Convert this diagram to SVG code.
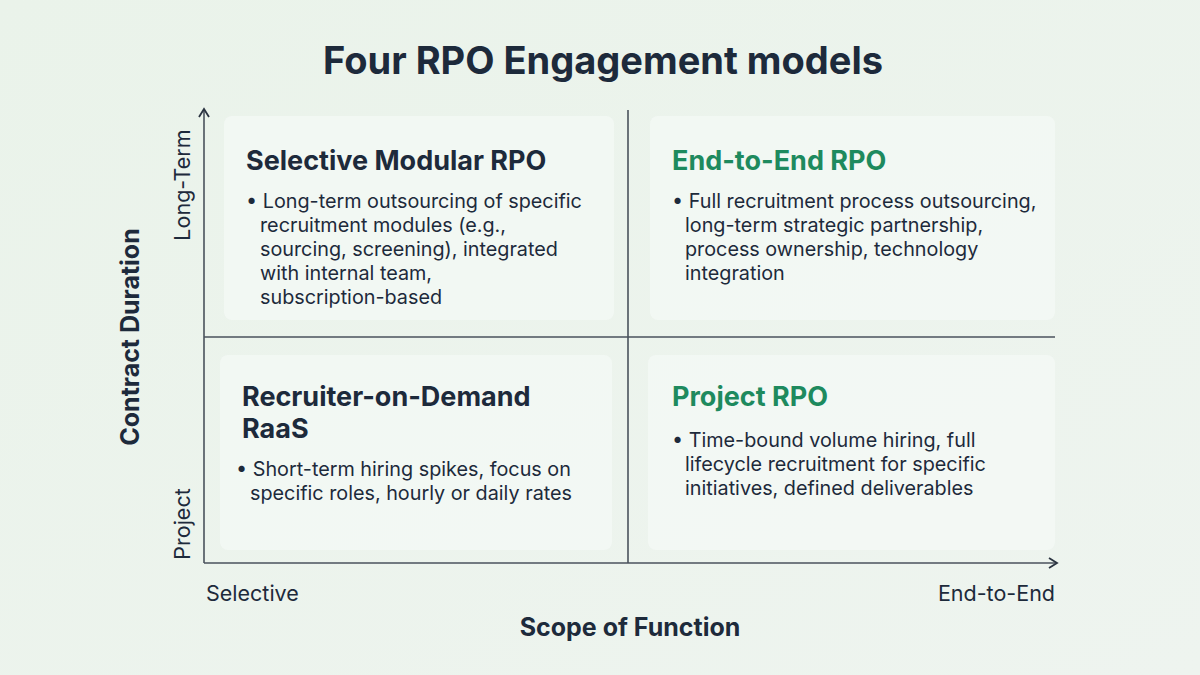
<svg xmlns="http://www.w3.org/2000/svg" width="1200" height="675" viewBox="0 0 1200 675">
<defs>
<linearGradient id="bg" x1="0" y1="0" x2="1" y2="1"><stop offset="0" stop-color="#eaf3ea"/><stop offset="1" stop-color="#eef4ef"/></linearGradient>
<marker id="ar" markerWidth="12" markerHeight="12" refX="9" refY="6" orient="auto" markerUnits="userSpaceOnUse"><path d="M2,1 L10,6 L2,11" fill="none" stroke="#2a3340" stroke-width="1.8"/></marker>
</defs>
<style>
text{font-family:Inter,"Open Sans",sans-serif;fill:#1d2a3b}
.t{font-size:27px;font-weight:700}
.g{fill:#1e8a5e}
.b{font-size:19.8px}
.ax{font-size:21.5px}
.axb{font-size:25px;font-weight:700}
.card{fill:#f3f8f4;opacity:.85}
.ln{stroke:#4a525c;stroke-width:1.6;fill:none}
</style>
<rect width="1200" height="675" fill="url(#bg)"/>
<text x="603" y="74" text-anchor="middle" style="font-size:38px;font-weight:700">Four RPO Engagement models</text>
<g id="connectors">
<line class="ln" x1="204" y1="563" x2="204" y2="110" marker-end="url(#ar)"/>
<line class="ln" x1="204" y1="563" x2="1056" y2="563" marker-end="url(#ar)"/>
<line class="ln" x1="628" y1="110" x2="628" y2="563"/>
<line class="ln" x1="204" y1="337" x2="1055" y2="337"/>
</g>
<g id="q-selective">
<rect class="card" x="224" y="116" width="390" height="204" rx="8"/>
<text class="t" x="246" y="170">Selective Modular RPO</text>
<text class="b" x="246" y="208">• Long-term outsourcing of specific</text>
<text class="b" x="260" y="232">recruitment modules (e.g.,</text>
<text class="b" x="260" y="256">sourcing, screening), integrated</text>
<text class="b" x="260" y="280">with internal team,</text>
<text class="b" x="260" y="304">subscription-based</text>
</g>
<g id="q-e2e">
<rect class="card" x="650" y="116" width="405" height="204" rx="8"/>
<text class="t g" x="672" y="170">End-to-End RPO</text>
<text class="b" x="672" y="208">• Full recruitment process outsourcing,</text>
<text class="b" x="685" y="232">long-term strategic partnership,</text>
<text class="b" x="685" y="256">process ownership, technology</text>
<text class="b" x="685" y="280">integration</text>
</g>
<g id="q-raas">
<rect class="card" x="220" y="355" width="392" height="195" rx="8"/>
<text class="t" x="242" y="406">Recruiter-on-Demand</text>
<text class="t" x="242" y="438">RaaS</text>
<text class="b" x="236" y="476">• Short-term hiring spikes, focus on</text>
<text class="b" x="250" y="500">specific roles, hourly or daily rates</text>
</g>
<g id="q-project">
<rect class="card" x="648" y="355" width="407" height="195" rx="8"/>
<text class="t g" x="672" y="406">Project RPO</text>
<text class="b" x="672" y="447">• Time-bound volume hiring, full</text>
<text class="b" x="685" y="471">lifecycle recruitment for specific</text>
<text class="b" x="685" y="495">initiatives, defined deliverables</text>
</g>
<g id="axes-labels">
<text class="ax" transform="translate(190,185) rotate(-90)" text-anchor="middle">Long-Term</text>
<text class="ax" transform="translate(190,524) rotate(-90)" text-anchor="middle">Project</text>
<text class="axb" transform="translate(139,337) rotate(-90)" text-anchor="middle">Contract Duration</text>
<text class="ax" x="206" y="601">Selective</text>
<text class="ax" x="1055" y="601" text-anchor="end">End-to-End</text>
<text class="axb" x="630" y="636" text-anchor="middle">Scope of Function</text>
</g>
</svg>
